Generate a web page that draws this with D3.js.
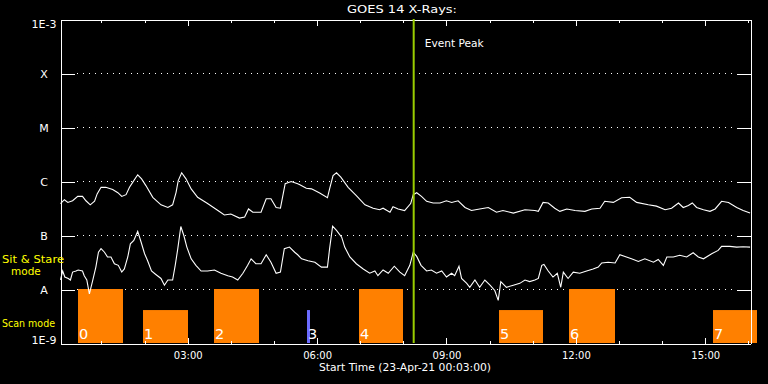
<!DOCTYPE html>
<html><head><meta charset="utf-8">
<script src="https://cdn.jsdelivr.net/npm/d3@7"></script>
<style>
html,body{margin:0;padding:0;background:#000;}
svg{display:block;background:#000;}
text{font-family:"DejaVu Sans",sans-serif;fill:#fff;}
</style></head><body>
<svg id="chart" width="768" height="384"></svg>
<script>
// ---------- data ----------
const chartTitle = "GOES 14 X-Rays:";
const xAxisTitle = "Start Time (23-Apr-21 00:03:00)";
const timeDomain = [0.05, 16.05];           // hours since 23-Apr-21 00:00
const majorTickHours = [3, 6, 9, 12, 15];
const majorTickLabels = ["03:00", "06:00", "09:00", "12:00", "15:00"];
const minorTickHours = [1, 2, 4, 5, 7, 8, 10, 11, 13, 14, 16];
const fluxLevels = [1e-9, 1e-8, 1e-7, 1e-6, 1e-5, 1e-4, 1e-3];
const fluxLabels = ["1E-9", "A", "B", "C", "M", "X", "1E-3"];
const eventPeakHour = 8.24;
const eventLabel = "Event Peak";
const modeLabelStare = ["Sit & Stare", "mode"];
const modeLabelScan = "Scan mode";

// observation blocks
const obsLabels = ["0", "1", "2", "3", "4", "5", "6", "7"];
const obsStart = [0.46, 1.96, 3.61, 5.77, 6.98, 10.22, 11.84, 15.18];
const obsEnd   = [1.50, 3.00, 4.65, 5.84, 7.99, 11.24, 12.91, 16.20];
const obsMode  = ["stare", "scan", "stare", "other", "stare", "scan", "stare", "scan"];

// GOES long channel (1-8 A)
const longTime = [
0.05,0.14,0.22,0.33,0.45,0.56,0.64,0.74,0.84,0.90,
0.99,1.10,1.26,1.38,1.47,1.57,1.65,1.75,1.84,1.93,
2.03,2.19,2.38,2.54,2.65,2.73,2.78,2.86,2.96,3.08,
3.23,3.46,3.70,3.85,4.00,4.20,4.32,4.41,4.51,4.70,
4.82,4.93,5.05,5.15,5.26,5.40,5.55,5.60,5.75,5.87,
6.06,6.24,6.29,6.37,6.45,6.55,6.72,6.91,7.11,7.30,
7.45,7.53,7.69,7.76,7.88,8.03,8.17,8.23,8.31,8.42,
8.54,8.69,8.85,9.00,9.12,9.27,9.43,9.58,9.77,9.97,
10.16,10.31,10.55,10.82,11.05,11.13,11.24,11.36,11.51,11.63,
11.79,11.98,12.21,12.37,12.56,12.67,12.87,13.06,13.25,13.41,
13.68,13.87,14.07,14.22,14.38,14.49,14.61,14.70,14.80,14.96,
15.11,15.23,15.38,15.54,15.73,15.88,16.04];
const longFlux = [
3.9e-7,4.6e-7,4.1e-7,4.4e-7,5.3e-7,5.3e-7,4.4e-7,3.7e-7,4.3e-7,5.9e-7,
7.8e-7,7.8e-7,7.1e-7,6.2e-7,5.3e-7,5.7e-7,7.8e-7,1.04e-6,1.33e-6,1.12e-6,
8.4e-7,5.1e-7,3.7e-7,3.3e-7,3.7e-7,6.3e-7,1.04e-6,1.45e-6,1.12e-6,7.3e-7,
5.1e-7,3.9e-7,2.9e-7,2.4e-7,2.5e-7,2.1e-7,2.2e-7,3.1e-7,2.7e-7,2.7e-7,
4.8e-7,4.8e-7,3.3e-7,3.2e-7,9.1e-7,1.0e-6,9.1e-7,8.7e-7,7.5e-7,7.3e-7,
6.1e-7,5.0e-7,7.3e-7,1.29e-6,1.45e-6,1.20e-6,7.8e-7,5.5e-7,3.7e-7,3.2e-7,
3.0e-7,3.2e-7,2.7e-7,3.4e-7,3.1e-7,2.9e-7,3.9e-7,5.7e-7,6.2e-7,5.3e-7,
4.3e-7,4.0e-7,4.0e-7,4.4e-7,4.1e-7,4.4e-7,3.3e-7,2.9e-7,3.1e-7,3.3e-7,
2.7e-7,2.9e-7,2.6e-7,3.0e-7,2.9e-7,2.8e-7,4.1e-7,4.0e-7,3.2e-7,2.8e-7,
3.1e-7,2.9e-7,2.8e-7,3.1e-7,3.2e-7,4.3e-7,4.1e-7,5.0e-7,5.1e-7,4.1e-7,
3.7e-7,3.5e-7,3.0e-7,3.2e-7,4.0e-7,3.3e-7,3.6e-7,4.0e-7,3.3e-7,3.0e-7,
2.8e-7,3.1e-7,4.3e-7,4.1e-7,3.3e-7,2.9e-7,2.6e-7];

// GOES short channel (0.5-4 A)
const shortTime = [
0.05,0.10,0.15,0.23,0.28,0.33,0.41,0.46,0.56,0.60,
0.66,0.72,0.80,0.87,0.93,0.99,1.07,1.14,1.22,1.30,
1.39,1.47,1.53,1.61,1.67,1.75,1.84,1.92,2.00,2.07,
2.16,2.26,2.38,2.46,2.54,2.65,2.71,2.77,2.84,2.91,
2.98,3.08,3.19,3.31,3.46,3.62,3.77,3.93,4.04,4.16,
4.28,4.39,4.47,4.58,4.70,4.82,4.93,5.05,5.15,5.24,
5.36,5.48,5.55,5.64,5.79,5.95,6.10,6.24,6.29,6.36,
6.45,6.57,6.64,6.76,6.91,7.07,7.22,7.34,7.41,7.53,
7.65,7.79,7.92,8.03,8.15,8.23,8.31,8.41,8.54,8.65,
8.77,8.89,9.00,9.12,9.19,9.29,9.35,9.47,9.54,9.66,
9.77,9.89,10.01,10.12,10.20,10.26,10.39,10.55,10.70,10.82,
10.93,11.05,11.13,11.21,11.26,11.36,11.47,11.57,11.65,11.71,
11.82,11.94,12.09,12.25,12.40,12.52,12.60,12.75,12.91,13.02,
13.14,13.29,13.45,13.60,13.80,13.91,14.03,14.11,14.26,14.41,
14.57,14.72,14.84,14.96,15.15,15.30,15.38,15.57,15.73,15.88,
16.04];
const shortFlux = [
1.5e-8,2.2e-8,1.7e-8,1.6e-8,1.5e-8,2.1e-8,2.2e-8,2.3e-8,2.2e-8,1.8e-8,
1.5e-8,8.3e-9,1.5e-8,2.6e-8,4.9e-8,5.7e-8,4.9e-8,4.0e-8,4.0e-8,3.0e-8,
2.8e-8,2.1e-8,2.4e-8,4.0e-8,7.0e-8,8.1e-8,1.19e-7,7.5e-8,4.6e-8,3.4e-8,
2.2e-8,1.9e-8,1.6e-8,1.2e-8,1.5e-8,1.5e-8,2.8e-8,5.7e-8,1.47e-7,1.0e-7,
6.1e-8,3.7e-8,2.8e-8,2.2e-8,2.2e-8,2.3e-8,2.0e-8,1.8e-8,1.7e-8,1.5e-8,
2.0e-8,2.8e-8,3.7e-8,3.0e-8,3.0e-8,4.4e-8,3.2e-8,2.0e-8,2.1e-8,5.7e-8,
6.1e-8,4.9e-8,4.4e-8,3.7e-8,3.4e-8,3.2e-8,2.6e-8,2.6e-8,5.7e-8,1.49e-7,
1.24e-7,9.3e-8,6.1e-8,4.0e-8,3.0e-8,2.4e-8,2.0e-8,2.2e-8,1.8e-8,2.3e-8,
2.0e-8,2.7e-8,2.1e-8,1.8e-8,2.8e-8,4.9e-8,4.1e-8,2.8e-8,2.2e-8,2.3e-8,
2.0e-8,2.2e-8,1.7e-8,2.0e-8,1.8e-8,2.7e-8,1.6e-8,1.3e-8,1.1e-8,1.5e-8,
1.1e-8,1.5e-8,1.2e-8,9.6e-9,6.3e-9,1.4e-8,1.1e-8,1.2e-8,1.3e-8,1.5e-8,
1.4e-8,1.5e-8,1.6e-8,2.8e-8,2.9e-8,2.2e-8,1.7e-8,2.0e-8,1.1e-8,2.1e-8,
1.6e-8,2.1e-8,2.0e-8,2.2e-8,2.4e-8,2.6e-8,3.1e-8,3.2e-8,3.1e-8,4.4e-8,
4.1e-8,3.7e-8,3.3e-8,3.7e-8,3.2e-8,3.6e-8,2.8e-8,4.0e-8,4.0e-8,4.3e-8,
4.0e-8,4.8e-8,4.0e-8,3.7e-8,4.6e-8,5.3e-8,6.3e-8,6.3e-8,6.1e-8,6.2e-8,
6.1e-8];

// ---------- layout ----------
const L = 60.5, R = 750.5, T = 19.5, B = 343.5;
const svg = d3.select("#chart");

const x = d3.scaleLinear().domain(timeDomain).range([L, R]);
const y = d3.scaleLog().domain([fluxLevels[0], fluxLevels[fluxLevels.length - 1]]).range([B, T]);

// dotted grid
const gridLevels = fluxLevels.slice(1, -1);
svg.append("g").selectAll("line").data(gridLevels).join("line")
  .attr("x1", 77).attr("x2", 735)
  .attr("y1", d => y(d)).attr("y2", d => y(d))
  .attr("stroke", "#fff").attr("stroke-width", 1)
  .attr("stroke-dasharray", "1,5").attr("shape-rendering", "crispEdges");

// observation bars
const modeColor = {stare: "#ff8000", scan: "#ff8000", other: "#6c6cff"};
const barBottom = B - 0.5;
const stareTop = y(fluxLevels[1]) - 0.5;
const scanTop = barBottom - 0.61 * (barBottom - stareTop);
const bars = obsLabels.map((l, i) => ({l, s: obsStart[i], e: obsEnd[i], m: obsMode[i]}));
const gBars = svg.append("g");
gBars.selectAll("rect").data(bars).join("rect")
  .attr("x", d => Math.round(x(d.s)))
  .attr("width", d => Math.round(x(d.e)) - Math.round(x(d.s)))
  .attr("y", d => d.m === "stare" ? stareTop : scanTop)
  .attr("height", d => barBottom - (d.m === "stare" ? stareTop : scanTop))
  .attr("fill", d => modeColor[d.m]);

// curves
const line = d3.line().x(d => x(d[0])).y(d => y(d[1]));
svg.append("path").datum(longTime.map((t, i) => [t, longFlux[i]]))
  .attr("d", line).attr("fill", "none").attr("stroke", "#fff").attr("stroke-width", 1.1);
svg.append("path").datum(shortTime.map((t, i) => [t, shortFlux[i]]))
  .attr("d", line).attr("fill", "none").attr("stroke", "#fff").attr("stroke-width", 1.1);

// bar labels
gBars.selectAll("text").data(bars).join("text")
  .attr("x", d => Math.round(x(d.s)) + 1)
  .attr("y", 339)
  .attr("font-size", 14.5)
  .text(d => d.l);

// axes
function styleAxis(g) {
  g.selectAll("path,line").attr("stroke", "#fff").attr("shape-rendering", "crispEdges");
}
const gBottom = svg.append("g").attr("transform", `translate(0,${B})`)
  .call(d3.axisBottom(x).tickValues(majorTickHours).tickSize(-6).tickSizeOuter(0)
    .tickPadding(8.5).tickFormat((d, i) => majorTickLabels[i]));
gBottom.call(styleAxis);
gBottom.selectAll("text").attr("font-size", 10).attr("fill", "#fff").attr("font-family", "DejaVu Sans");
const gBottomMinor = svg.append("g").attr("transform", `translate(0,${B})`)
  .call(d3.axisBottom(x).tickValues(minorTickHours).tickSize(-3).tickSizeOuter(0).tickFormat(""));
gBottomMinor.select(".domain").remove();
gBottomMinor.call(styleAxis);

const gTop = svg.append("g").attr("transform", `translate(0,${T})`)
  .call(d3.axisTop(x).tickValues(majorTickHours).tickSize(-6).tickSizeOuter(0).tickFormat(""));
gTop.call(styleAxis);
const gTopMinor = svg.append("g").attr("transform", `translate(0,${T})`)
  .call(d3.axisTop(x).tickValues(minorTickHours).tickSize(-3).tickSizeOuter(0).tickFormat(""));
gTopMinor.select(".domain").remove();
gTopMinor.call(styleAxis);

const gLeft = svg.append("g").attr("transform", `translate(${L},0)`)
  .call(d3.axisLeft(y).tickValues(fluxLevels).tickSize(-14).tickSizeOuter(0)
    .tickFormat((d, i) => fluxLabels[i]));
gLeft.call(styleAxis);
gLeft.selectAll("text")
  .attr("x", -16.5).attr("text-anchor", "middle").attr("font-size", 11)
  .attr("fill", "#fff").attr("font-family", "DejaVu Sans")
  .attr("dy", (d, i) => i === 0 ? "-0.02em" : (i === fluxLevels.length - 1 ? "0.72em" : "0.36em"));

const gRight = svg.append("g").attr("transform", `translate(${R},0)`)
  .call(d3.axisRight(y).tickValues(fluxLevels).tickSize(-14).tickSizeOuter(0).tickFormat(""));
gRight.call(styleAxis);

// event peak line
const ex = x(eventPeakHour);
svg.append("line").attr("x1", ex).attr("x2", ex).attr("y1", T - 0.5).attr("y2", B - 0.5)
  .attr("stroke", "#99cc00").attr("stroke-width", 2);
svg.append("text").attr("x", ex + 11).attr("y", 46.5).attr("font-size", 10.5)
  .attr("textLength", 59).attr("lengthAdjust", "spacingAndGlyphs").text(eventLabel);

// titles
svg.append("text").attr("x", 402).attr("y", 13.3).attr("text-anchor", "middle")
  .attr("font-size", 11).attr("textLength", 110).attr("lengthAdjust", "spacingAndGlyphs")
  .text(chartTitle);
svg.append("text").attr("x", 405).attr("y", 371).attr("text-anchor", "middle")
  .attr("font-size", 10).attr("textLength", 172).attr("lengthAdjust", "spacingAndGlyphs")
  .text(xAxisTitle);

// mode labels
svg.append("text").attr("x", 2).attr("y", 263).attr("font-size", 10.5).style("fill", "#ffff00")
  .attr("textLength", 62).attr("lengthAdjust", "spacingAndGlyphs").text(modeLabelStare[0]);
svg.append("text").attr("x", 11).attr("y", 275).attr("font-size", 10.5).style("fill", "#ffff00")
  .text(modeLabelStare[1]);
svg.append("text").attr("x", 2).attr("y", 327.3).attr("font-size", 10.5).style("fill", "#ffff00")
  .attr("textLength", 53).attr("lengthAdjust", "spacingAndGlyphs").text(modeLabelScan);
</script>
</body></html>
